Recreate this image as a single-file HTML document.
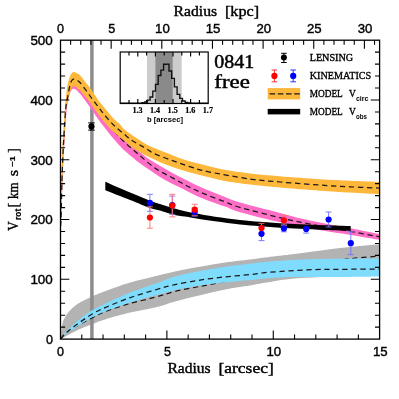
<!DOCTYPE html>
<html><head><meta charset="utf-8"><title>0841 free</title>
<style>html,body{margin:0;padding:0;background:#fff}body{width:399px;height:399px;overflow:hidden;font-family:"Liberation Serif",serif}</style></head>
<body>
<svg width="399" height="399" viewBox="0 0 399 399" style="display:block;will-change:transform">
<rect width="399" height="399" fill="#fff"/>
<defs><clipPath id="cp"><rect x="60.5" y="40.2" width="319.1" height="298.9"/></clipPath></defs>
<g clip-path="url(#cp)">
<path d="M60.50 339.10 C60.62 337.83 60.87 334.15 61.20 331.50 C61.53 328.85 61.95 325.42 62.50 323.20 C63.05 320.98 63.67 319.83 64.50 318.20 C65.33 316.57 66.08 315.18 67.50 313.40 C68.92 311.62 70.92 309.30 73.00 307.50 C75.08 305.70 76.73 304.47 80.00 302.60 C83.27 300.73 88.42 298.18 92.60 296.30 C96.78 294.42 98.83 293.58 105.10 291.30 C111.37 289.02 121.88 285.10 130.20 282.60 C138.52 280.10 147.53 278.17 155.00 276.30 C162.47 274.43 167.50 272.98 175.00 271.40 C182.50 269.82 191.67 268.27 200.00 266.80 C208.33 265.33 216.67 263.80 225.00 262.60 C233.33 261.40 243.33 260.43 250.00 259.60 C256.67 258.77 258.33 258.43 265.00 257.60 C271.67 256.77 281.67 255.65 290.00 254.60 C298.33 253.55 306.67 252.40 315.00 251.30 C323.33 250.20 332.50 248.88 340.00 248.00 C347.50 247.12 353.42 246.63 360.00 246.00 C366.58 245.37 376.25 244.50 379.50 244.20 L379.65 275.00 C374.71 275.17 359.94 275.67 350.00 276.00 C340.06 276.33 330.00 276.50 320.00 277.00 C310.00 277.50 299.17 278.03 290.00 279.00 C280.83 279.97 271.67 281.73 265.00 282.80 C258.33 283.87 256.67 284.30 250.00 285.40 C243.33 286.50 233.33 287.77 225.00 289.40 C216.67 291.03 208.33 293.20 200.00 295.20 C191.67 297.20 182.50 299.33 175.00 301.40 C167.50 303.47 162.47 305.73 155.00 307.60 C147.53 309.47 138.52 310.63 130.20 312.60 C121.88 314.57 111.37 317.52 105.10 319.40 C98.83 321.28 96.78 322.32 92.60 323.90 C88.42 325.48 83.77 327.22 80.00 328.90 C76.23 330.58 73.25 332.30 70.00 334.00 C66.75 335.70 62.08 338.25 60.50 339.10 Z" fill="#B3B3B3"/>
<line x1="91.9" x2="91.9" y1="40" y2="339.1" stroke="#8C8C8C" stroke-width="3.5"/>
<path d="M60.50 339.10 C61.25 338.25 63.42 335.52 65.00 334.00 C66.58 332.48 67.50 331.63 70.00 330.00 C72.50 328.37 76.23 326.27 80.00 324.20 C83.77 322.13 88.42 319.70 92.60 317.60 C96.78 315.50 98.83 313.97 105.10 311.60 C111.37 309.23 121.88 305.78 130.20 303.40 C138.52 301.02 147.53 299.30 155.00 297.30 C162.47 295.30 167.50 293.22 175.00 291.40 C182.50 289.58 191.67 288.05 200.00 286.40 C208.33 284.75 216.67 283.07 225.00 281.50 C233.33 279.93 240.83 278.67 250.00 277.00 C259.17 275.33 270.00 273.42 280.00 271.50 C290.00 269.58 300.00 267.38 310.00 265.50 C320.00 263.62 332.50 261.42 340.00 260.20 C347.50 258.98 348.42 258.90 355.00 258.20 C361.58 257.50 375.42 256.37 379.50 256.00" fill="none" stroke="#1a1a1a" stroke-width="1.25" stroke-dasharray="5.3 3.7"/>
<path d="M60.50 339.10 C61.25 338.08 63.42 334.85 65.00 333.00 C66.58 331.15 67.50 330.35 70.00 328.00 C72.50 325.65 76.23 321.88 80.00 318.90 C83.77 315.92 88.42 312.60 92.60 310.10 C96.78 307.60 98.83 306.82 105.10 303.90 C111.37 300.98 121.88 295.95 130.20 292.60 C138.52 289.25 147.53 286.50 155.00 283.80 C162.47 281.10 167.50 278.55 175.00 276.40 C182.50 274.25 191.67 272.50 200.00 270.90 C208.33 269.30 216.67 267.98 225.00 266.80 C233.33 265.62 243.33 264.58 250.00 263.80 C256.67 263.02 258.33 262.72 265.00 262.10 C271.67 261.48 281.67 260.60 290.00 260.10 C298.33 259.60 306.67 259.32 315.00 259.10 C323.33 258.88 329.25 258.88 340.00 258.80 C350.75 258.72 372.92 258.63 379.50 258.60 L379.65 276.60 C373.04 276.68 350.77 277.03 340.00 277.10 C329.23 277.17 323.33 277.02 315.00 277.00 C306.67 276.98 298.33 276.77 290.00 277.00 C281.67 277.23 271.67 277.88 265.00 278.40 C258.33 278.92 256.67 279.40 250.00 280.10 C243.33 280.80 233.33 281.68 225.00 282.60 C216.67 283.52 208.33 284.33 200.00 285.60 C191.67 286.87 182.50 288.53 175.00 290.20 C167.50 291.87 162.47 293.53 155.00 295.60 C147.53 297.67 138.52 299.97 130.20 302.60 C121.88 305.23 111.37 308.98 105.10 311.40 C98.83 313.82 96.78 314.88 92.60 317.10 C88.42 319.32 83.77 322.38 80.00 324.70 C76.23 327.02 72.50 329.37 70.00 331.00 C67.50 332.63 66.58 333.15 65.00 334.50 C63.42 335.85 61.25 338.33 60.50 339.10 Z" fill="#80DCFC"/>
<path d="M60.50 339.10 C61.25 338.22 63.42 335.38 65.00 333.80 C66.58 332.22 67.50 331.53 70.00 329.60 C72.50 327.67 76.23 324.83 80.00 322.20 C83.77 319.57 88.42 316.23 92.60 313.80 C96.78 311.37 98.83 310.30 105.10 307.60 C111.37 304.90 121.88 300.53 130.20 297.60 C138.52 294.67 147.53 292.17 155.00 290.00 C162.47 287.83 167.50 286.25 175.00 284.60 C182.50 282.95 191.67 281.38 200.00 280.10 C208.33 278.82 216.67 277.82 225.00 276.90 C233.33 275.98 243.33 275.32 250.00 274.60 C256.67 273.88 258.33 273.22 265.00 272.60 C271.67 271.98 281.67 271.40 290.00 270.90 C298.33 270.40 306.67 269.87 315.00 269.60 C323.33 269.33 329.25 269.38 340.00 269.30 C350.75 269.22 372.92 269.13 379.50 269.10" fill="none" stroke="#1a1a1a" stroke-width="1.25" stroke-dasharray="5.3 3.7"/>
<path d="M60.60 226.00 C60.67 224.17 60.80 222.67 61.00 215.00 C61.20 207.33 61.53 190.00 61.80 180.00 C62.07 170.00 62.33 162.00 62.60 155.00 C62.87 148.00 63.08 143.50 63.40 138.00 C63.72 132.50 64.15 127.08 64.50 122.00 C64.85 116.92 65.12 112.00 65.50 107.50 C65.88 103.00 66.30 98.58 66.80 95.00 C67.30 91.42 67.88 88.50 68.50 86.00 C69.12 83.50 69.62 81.50 70.50 80.00 C71.38 78.50 72.17 76.83 73.75 77.00 C75.33 77.17 77.29 78.00 80.00 81.00 C82.71 84.00 86.67 90.33 90.00 95.00 C93.33 99.67 96.25 104.00 100.00 109.00 C103.75 114.00 108.33 120.08 112.50 125.00 C116.67 129.92 120.83 134.33 125.00 138.50 C129.17 142.67 133.33 146.45 137.50 150.00 C141.67 153.55 145.42 156.67 150.00 159.80 C154.58 162.93 160.00 165.93 165.00 168.80 C170.00 171.67 175.00 174.40 180.00 177.00 C185.00 179.60 190.00 182.07 195.00 184.40 C200.00 186.73 205.00 188.88 210.00 191.00 C215.00 193.12 220.00 195.17 225.00 197.10 C230.00 199.03 230.83 199.95 240.00 202.60 C249.17 205.25 270.00 210.38 280.00 213.00 C290.00 215.62 292.50 216.53 300.00 218.30 C307.50 220.07 316.55 221.95 325.00 223.60 C333.45 225.25 341.62 226.45 350.70 228.20 C359.78 229.95 374.70 233.12 379.50 234.10 L379.50 239.70 C374.70 238.90 359.78 236.35 350.70 234.90 C341.62 233.45 333.45 232.38 325.00 231.00 C316.55 229.62 307.50 228.05 300.00 226.60 C292.50 225.15 290.00 224.70 280.00 222.30 C270.00 219.90 249.17 214.82 240.00 212.20 C230.83 209.58 231.67 209.07 225.00 206.60 C218.33 204.13 205.23 199.42 200.00 197.40 C194.77 195.38 196.93 196.15 193.60 194.50 C190.27 192.85 184.77 189.90 180.00 187.50 C175.23 185.10 170.00 182.97 165.00 180.10 C160.00 177.23 154.58 173.40 150.00 170.30 C145.42 167.20 141.67 164.72 137.50 161.50 C133.33 158.28 127.50 153.12 125.00 151.00 C122.50 148.88 124.58 151.00 122.50 148.75 C120.42 146.50 115.82 141.46 112.50 137.50 C109.18 133.54 104.68 127.63 102.60 125.00 C100.52 122.37 101.27 123.43 100.00 121.70 C98.73 119.97 96.67 117.02 95.00 114.60 C93.33 112.18 91.46 109.30 90.00 107.20 C88.54 105.10 87.92 104.24 86.25 102.00 C84.58 99.76 81.71 95.80 80.00 93.75 C78.29 91.70 77.04 90.53 76.00 89.70 C74.96 88.87 74.50 88.70 73.75 88.75 C73.00 88.80 72.22 88.96 71.50 90.00 C70.78 91.04 70.10 92.50 69.40 95.00 C68.70 97.50 67.92 100.50 67.30 105.00 C66.68 109.50 66.15 116.17 65.70 122.00 C65.25 127.83 64.95 134.00 64.60 140.00 C64.25 146.00 63.93 151.33 63.60 158.00 C63.27 164.67 62.97 170.50 62.60 180.00 C62.23 189.50 61.72 207.33 61.40 215.00 C61.08 222.67 60.82 224.17 60.70 226.00 Z" fill="#FF6EC6"/>
<path d="M108.75 124.40 C109.58 125.43 111.88 128.42 113.75 130.60 C115.62 132.78 117.81 135.20 120.00 137.50 C122.19 139.80 125.03 142.63 126.90 144.40 C128.78 146.17 129.48 146.58 131.25 148.10 C133.02 149.62 133.62 150.22 137.50 153.50 C141.38 156.78 148.65 163.73 154.50 167.80 C160.35 171.87 166.83 174.70 172.60 177.90 C178.37 181.10 183.60 184.25 189.10 187.00 C194.60 189.75 199.62 191.92 205.60 194.40 C211.58 196.88 219.27 199.73 225.00 201.90 C230.73 204.07 230.83 204.77 240.00 207.40 C249.17 210.03 270.00 215.25 280.00 217.70 C290.00 220.15 292.50 220.57 300.00 222.10 C307.50 223.63 316.55 225.33 325.00 226.90 C333.45 228.47 341.62 229.85 350.70 231.50 C359.78 233.15 374.70 235.92 379.50 236.80" fill="none" stroke="#1a1a1a" stroke-width="1.25" stroke-dasharray="5.3 3.7"/>
<path d="M60.60 226.00 C60.65 224.17 60.75 222.67 60.90 215.00 C61.05 207.33 61.28 190.00 61.50 180.00 C61.72 170.00 61.97 162.00 62.20 155.00 C62.43 148.00 62.60 143.50 62.90 138.00 C63.20 132.50 63.65 127.08 64.00 122.00 C64.35 116.92 64.62 112.00 65.00 107.50 C65.38 103.00 65.83 98.75 66.25 95.00 C66.67 91.25 66.88 88.12 67.50 85.00 C68.12 81.88 69.25 78.25 70.00 76.25 C70.75 74.25 71.38 73.69 72.00 73.00 C72.62 72.31 73.08 72.13 73.75 72.10 C74.42 72.07 74.96 72.28 76.00 72.80 C77.04 73.32 78.67 73.97 80.00 75.20 C81.33 76.43 82.67 78.53 84.00 80.20 C85.33 81.87 86.58 83.33 88.00 85.20 C89.42 87.07 91.33 89.72 92.50 91.40 C93.67 93.08 93.75 93.43 95.00 95.30 C96.25 97.17 98.33 100.38 100.00 102.60 C101.67 104.82 103.33 106.60 105.00 108.60 C106.67 110.60 108.33 112.68 110.00 114.60 C111.67 116.52 113.40 118.52 115.00 120.10 C116.60 121.68 117.93 122.45 119.60 124.10 C121.27 125.75 122.02 127.56 125.00 130.00 C127.98 132.44 133.33 136.03 137.50 138.75 C141.67 141.47 145.42 144.04 150.00 146.30 C154.58 148.56 160.00 150.30 165.00 152.30 C170.00 154.30 175.00 156.55 180.00 158.30 C185.00 160.05 190.00 161.45 195.00 162.80 C200.00 164.15 205.00 165.23 210.00 166.40 C215.00 167.57 218.33 168.62 225.00 169.80 C231.67 170.98 240.83 172.42 250.00 173.50 C259.17 174.58 268.33 175.33 280.00 176.30 C291.67 177.27 308.33 178.55 320.00 179.30 C331.67 180.05 340.08 180.35 350.00 180.80 C359.92 181.25 374.58 181.80 379.50 182.00 L379.50 194.30 C374.58 194.02 359.92 193.20 350.00 192.60 C340.08 192.00 331.67 191.55 320.00 190.70 C308.33 189.85 291.67 188.52 280.00 187.50 C268.33 186.48 259.17 185.68 250.00 184.60 C240.83 183.52 231.67 182.18 225.00 181.00 C218.33 179.82 215.00 178.70 210.00 177.50 C205.00 176.30 200.00 175.12 195.00 173.80 C190.00 172.48 185.00 171.18 180.00 169.60 C175.00 168.02 170.00 166.30 165.00 164.30 C160.00 162.30 155.21 160.23 150.00 157.60 C144.79 154.97 137.92 151.22 133.75 148.50 C129.58 145.78 128.54 144.18 125.00 141.25 C121.46 138.32 115.82 133.94 112.50 130.90 C109.18 127.86 107.18 125.40 105.10 123.00 C103.02 120.60 101.68 118.70 100.00 116.50 C98.32 114.30 96.67 112.12 95.00 109.80 C93.33 107.48 91.46 104.60 90.00 102.60 C88.54 100.60 87.92 99.80 86.25 97.80 C84.58 95.80 81.71 92.40 80.00 90.60 C78.29 88.80 77.04 87.72 76.00 87.00 C74.96 86.28 74.42 86.17 73.75 86.25 C73.08 86.33 72.62 86.46 72.00 87.50 C71.38 88.54 70.75 90.00 70.00 92.50 C69.25 95.00 68.12 99.58 67.50 102.50 C66.88 105.42 66.60 106.75 66.25 110.00 C65.90 113.25 65.71 117.00 65.40 122.00 C65.09 127.00 64.72 134.00 64.40 140.00 C64.08 146.00 63.82 151.33 63.50 158.00 C63.18 164.67 62.85 170.50 62.50 180.00 C62.15 189.50 61.70 207.33 61.40 215.00 C61.10 222.67 60.82 224.17 60.70 226.00 Z" fill="#FDB73A"/>
<path d="M60.65 226.00 C60.73 224.17 60.92 222.67 61.15 215.00 C61.38 207.33 61.71 190.00 62.00 180.00 C62.29 170.00 62.62 161.67 62.90 155.00 C63.18 148.33 63.42 145.00 63.70 140.00 C63.98 135.00 64.28 130.00 64.60 125.00 C64.92 120.00 65.28 113.67 65.60 110.00 C65.92 106.33 66.08 105.50 66.50 103.00 C66.92 100.50 67.52 98.00 68.10 95.00 C68.68 92.00 69.38 87.42 70.00 85.00 C70.62 82.58 71.17 81.50 71.80 80.50 C72.42 79.50 73.05 79.17 73.75 79.00 C74.45 78.83 74.96 78.92 76.00 79.50 C77.04 80.08 78.29 80.65 80.00 82.50 C81.71 84.35 84.17 87.78 86.25 90.60 C88.33 93.42 90.42 96.58 92.50 99.40 C94.58 102.22 96.88 105.07 98.75 107.50 C100.62 109.93 101.88 111.71 103.75 114.00 C105.62 116.29 107.92 119.00 110.00 121.25 C112.08 123.50 113.96 125.42 116.25 127.50 C118.54 129.58 121.25 131.67 123.75 133.75 C126.25 135.83 128.75 138.22 131.25 140.00 C133.75 141.78 136.25 142.97 138.75 144.40 C141.25 145.83 143.62 147.03 146.25 148.60 C148.88 150.17 150.11 151.80 154.50 153.80 C158.89 155.80 166.58 158.42 172.60 160.60 C178.62 162.78 184.60 165.03 190.60 166.90 C196.60 168.77 198.70 169.78 208.60 171.80 C218.50 173.82 238.10 177.30 250.00 179.00 C261.90 180.70 268.33 180.98 280.00 182.00 C291.67 183.02 308.33 184.30 320.00 185.10 C331.67 185.90 340.08 186.30 350.00 186.80 C359.92 187.30 374.58 187.88 379.50 188.10" fill="none" stroke="#1a1a1a" stroke-width="1.25" stroke-dasharray="5.3 3.7"/>
<path d="M105.30 181.70 C109.43 183.52 122.65 189.42 130.10 192.60 C137.55 195.78 145.02 198.88 150.00 200.80 C154.98 202.72 156.23 202.90 160.00 204.10 C163.77 205.30 168.43 206.82 172.60 208.00 C176.77 209.18 181.25 210.32 185.00 211.20 C188.75 212.08 190.10 212.37 195.10 213.30 C200.10 214.23 207.52 215.68 215.00 216.80 C222.48 217.92 232.50 219.17 240.00 220.00 C247.50 220.83 253.33 221.27 260.00 221.80 C266.67 222.33 273.33 222.78 280.00 223.20 C286.67 223.62 292.50 223.95 300.00 224.30 C307.50 224.65 316.55 225.00 325.00 225.30 C333.45 225.60 346.42 225.97 350.70 226.10 L350.70 230.90 C346.42 230.75 333.45 230.35 325.00 230.00 C316.55 229.65 307.50 229.18 300.00 228.80 C292.50 228.42 286.67 228.12 280.00 227.70 C273.33 227.28 266.67 226.82 260.00 226.30 C253.33 225.78 247.50 225.43 240.00 224.60 C232.50 223.77 222.48 222.35 215.00 221.30 C207.52 220.25 200.10 219.08 195.10 218.30 C190.10 217.52 188.75 217.23 185.00 216.60 C181.25 215.97 176.77 215.50 172.60 214.50 C168.43 213.50 163.77 211.67 160.00 210.60 C156.23 209.53 154.98 209.85 150.00 208.10 C145.02 206.35 137.55 203.07 130.10 200.10 C122.65 197.13 109.43 191.93 105.30 190.30 Z" fill="#000"/>
</g>
<g stroke="#7070FF" stroke-width="0.9" fill="none"><path d="M149.9 194.3V211.3M146.9 194.3H152.9M146.9 211.3H152.9"/></g>
<g stroke="#7070FF" stroke-width="0.9" fill="none"><path d="M172.3 196.1V214.3M169.3 196.1H175.3M169.3 214.3H175.3"/></g>
<g stroke="#7070FF" stroke-width="0.9" fill="none"><path d="M194.7 208.1V216.1M191.7 208.1H197.7M191.7 216.1H197.7"/></g>
<g stroke="#7070FF" stroke-width="0.9" fill="none"><path d="M261.5 227.0V240.6M258.5 227.0H264.5M258.5 240.6H264.5"/></g>
<g stroke="#7070FF" stroke-width="0.9" fill="none"><path d="M283.9 225.0V231.8M280.9 225.0H286.9M280.9 231.8H286.9"/></g>
<g stroke="#7070FF" stroke-width="0.9" fill="none"><path d="M306.2 228.9V233.1M303.2 228.9H309.2M303.2 233.1H309.2"/></g>
<g stroke="#7070FF" stroke-width="0.9" fill="none"><path d="M328.6 212.0V227.0M325.6 212.0H331.6M325.6 227.0H331.6"/></g>
<g stroke="#7070FF" stroke-width="0.9" fill="none"><path d="M350.8 231.7V254.7M347.8 231.7H353.8M347.8 254.7H353.8"/></g>
<g stroke="#FF7070" stroke-width="0.9" fill="none"><path d="M149.9 206.8V228.2M146.9 206.8H152.9M146.9 228.2H152.9"/></g>
<g stroke="#FF7070" stroke-width="0.9" fill="none"><path d="M172.3 194.3V216.9M169.3 194.3H175.3M169.3 216.9H175.3"/></g>
<g stroke="#FF7070" stroke-width="0.9" fill="none"><path d="M194.7 204.2V215.2M191.7 204.2H197.7M191.7 215.2H197.7"/></g>
<g stroke="#FF7070" stroke-width="0.9" fill="none"><path d="M261.5 223.3V232.9M258.5 223.3H264.5M258.5 232.9H264.5"/></g>
<g stroke="#FF7070" stroke-width="0.9" fill="none"><path d="M283.9 215.3V225.3M280.9 215.3H286.9M280.9 225.3H286.9"/></g>
<circle cx="149.9" cy="202.8" r="3.1" fill="#0000FF"/>
<circle cx="172.3" cy="205.2" r="3.1" fill="#0000FF"/>
<circle cx="194.7" cy="212.1" r="3.1" fill="#0000FF"/>
<circle cx="261.5" cy="233.8" r="3.1" fill="#0000FF"/>
<circle cx="283.9" cy="228.4" r="3.1" fill="#0000FF"/>
<circle cx="306.2" cy="228.9" r="3.1" fill="#0000FF"/>
<circle cx="328.6" cy="219.5" r="3.1" fill="#0000FF"/>
<circle cx="350.8" cy="243.2" r="3.1" fill="#0000FF"/>
<circle cx="149.9" cy="217.5" r="3.1" fill="#FF0000"/>
<circle cx="172.3" cy="205.6" r="3.1" fill="#FF0000"/>
<circle cx="194.7" cy="209.7" r="3.1" fill="#FF0000"/>
<circle cx="261.5" cy="228.1" r="3.1" fill="#FF0000"/>
<circle cx="283.9" cy="220.3" r="3.1" fill="#FF0000"/>
<g stroke="#000" stroke-width="1" fill="none"><path d="M91.5 122.9V130.1M88.2 122.9H94.8M88.2 130.1H94.8"/></g><circle cx="91.5" cy="126.4" r="3.1" fill="#000"/>
<g stroke="#000" stroke-width="1.3" fill="none">
<rect x="60.5" y="40.2" width="319.1" height="298.9"/>
</g>
<path d="M81.78 339.1v-4.5M103.05 339.1v-4.5M124.33 339.1v-4.5M145.61 339.1v-4.5M166.88 339.1v-8.6M188.16 339.1v-4.5M209.44 339.1v-4.5M230.71 339.1v-4.5M251.99 339.1v-4.5M273.27 339.1v-8.6M294.54 339.1v-4.5M315.82 339.1v-4.5M337.10 339.1v-4.5M358.37 339.1v-4.5M70.63 40.2v4.5M80.76 40.2v4.5M90.89 40.2v4.5M101.02 40.2v4.5M111.15 40.2v8.6M121.28 40.2v4.5M131.41 40.2v4.5M141.54 40.2v4.5M151.67 40.2v4.5M161.80 40.2v8.6M171.93 40.2v4.5M182.06 40.2v4.5M192.19 40.2v4.5M202.32 40.2v4.5M212.45 40.2v8.6M222.58 40.2v4.5M232.71 40.2v4.5M242.84 40.2v4.5M252.97 40.2v4.5M263.10 40.2v8.6M273.23 40.2v4.5M283.36 40.2v4.5M293.49 40.2v4.5M303.62 40.2v4.5M313.75 40.2v8.6M323.88 40.2v4.5M334.01 40.2v4.5M344.14 40.2v4.5M354.27 40.2v4.5M364.40 40.2v8.6M374.53 40.2v4.5M60.5 327.14h4.6M379.6 327.14h-4.6M60.5 315.19h4.6M379.6 315.19h-4.6M60.5 303.23h4.6M379.6 303.23h-4.6M60.5 291.28h4.6M379.6 291.28h-4.6M60.5 279.32h8.8M379.6 279.32h-8.8M60.5 267.36h4.6M379.6 267.36h-4.6M60.5 255.41h4.6M379.6 255.41h-4.6M60.5 243.45h4.6M379.6 243.45h-4.6M60.5 231.50h4.6M379.6 231.50h-4.6M60.5 219.54h8.8M379.6 219.54h-8.8M60.5 207.58h4.6M379.6 207.58h-4.6M60.5 195.63h4.6M379.6 195.63h-4.6M60.5 183.67h4.6M379.6 183.67h-4.6M60.5 171.72h4.6M379.6 171.72h-4.6M60.5 159.76h8.8M379.6 159.76h-8.8M60.5 147.80h4.6M379.6 147.80h-4.6M60.5 135.85h4.6M379.6 135.85h-4.6M60.5 123.89h4.6M379.6 123.89h-4.6M60.5 111.94h4.6M379.6 111.94h-4.6M60.5 99.98h8.8M379.6 99.98h-8.8M60.5 88.02h4.6M379.6 88.02h-4.6M60.5 76.07h4.6M379.6 76.07h-4.6M60.5 64.11h4.6M379.6 64.11h-4.6M60.5 52.16h4.6M379.6 52.16h-4.6" stroke="#000" stroke-width="1.1" fill="none"/>
<rect x="120.2" y="52.0" width="88.0" height="51.5" fill="#fff"/>
<rect x="147" y="52.0" width="34.7" height="51.5" fill="#CCCCCC"/>
<rect x="155.4" y="52.0" width="17.3" height="51.5" fill="#8A8A8A"/>
<path d="M120.40 103.20V103.20H123.10V103.20H125.80V103.20H128.50V103.20H131.20V103.20H133.90V103.19H136.60V103.16H139.30V103.05H142.00V102.78H144.70V102.03H147.40V100.11H150.10V97.03H152.80V91.18H155.50V84.31H158.20V75.47H160.90V70.14H163.60V64.23H166.30V64.10H169.00V71.00H171.70V78.31H174.40V86.86H177.10V94.38H179.80V98.30H182.50V101.04H185.20V102.38H187.90V102.93H190.60V103.11H193.30V103.18H196.00V103.19H198.70V103.20H201.40V103.20H204.10V103.20H206.80V103.20H208.20V103.20" fill="none" stroke="#111" stroke-width="1.35" stroke-linejoin="miter"/>
<rect x="120.2" y="52.0" width="88.0" height="51.5" fill="none" stroke="#000" stroke-width="1.2"/>
<path d="M129.00 52.0v3.4M129.00 103.5v-3.4M137.80 52.0v4.6M137.80 103.5v-4.6M146.60 52.0v3.4M146.60 103.5v-3.4M155.40 52.0v4.6M155.40 103.5v-4.6M164.20 52.0v3.4M164.20 103.5v-3.4M173.00 52.0v4.6M173.00 103.5v-4.6M181.80 52.0v3.4M181.80 103.5v-3.4M190.60 52.0v4.6M190.60 103.5v-4.6M199.40 52.0v3.4M199.40 103.5v-3.4" stroke="#000" stroke-width="1.15" fill="none"/>
<g stroke="#000" stroke-width="1" fill="none"><path d="M283.9 53.3V62.5M281.1 53.3H286.7M281.1 62.5H286.7"/></g><circle cx="283.9" cy="57.6" r="3" fill="#000"/>
<g stroke="#FF3030" stroke-width="1" fill="none"><path d="M274.4 70V81.8M271.6 70H277.2M271.6 81.8H277.2"/></g><circle cx="274.4" cy="75.9" r="3.1" fill="#FF0000"/>
<g stroke="#3030FF" stroke-width="1" fill="none"><path d="M293.2 70V81.8M290.4 70H296M290.4 81.8H296"/></g><circle cx="293.2" cy="75.9" r="3.1" fill="#0000FF"/>
<rect x="267.7" y="88.1" width="32.5" height="11.3" fill="#FDB73A"/>
<line x1="269.6" x2="300.2" y1="93.9" y2="93.9" stroke="#1a1a1a" stroke-width="1.4" stroke-dasharray="5.6 2.6"/>
<rect x="267.7" y="108.9" width="32.5" height="5.5" fill="#000"/>
<g fill="#000">
<text x="173.6" y="16.4" font-family="'Liberation Serif', serif" font-size="13.6px" text-anchor="start" font-weight="normal" textLength="43.5" lengthAdjust="spacingAndGlyphs" stroke="#000" stroke-width="0.38" >Radius</text>
<text x="225.0" y="16.4" font-family="'Liberation Serif', serif" font-size="13.6px" text-anchor="start" font-weight="normal" textLength="34.0" lengthAdjust="spacingAndGlyphs" stroke="#000" stroke-width="0.38" >[kpc]</text>
<text x="57.0" y="33.4" font-family="'Liberation Sans', sans-serif" font-size="13.3px" text-anchor="start" font-weight="normal" textLength="7.0" lengthAdjust="spacingAndGlyphs" stroke="#000" stroke-width="0.40" >0</text>
<text x="108.3" y="33.4" font-family="'Liberation Sans', sans-serif" font-size="13.3px" text-anchor="start" font-weight="normal" textLength="7.0" lengthAdjust="spacingAndGlyphs" stroke="#000" stroke-width="0.40" >5</text>
<text x="155.1" y="33.4" font-family="'Liberation Sans', sans-serif" font-size="13.3px" text-anchor="start" font-weight="normal" textLength="14.7" lengthAdjust="spacingAndGlyphs" stroke="#000" stroke-width="0.40" >10</text>
<text x="205.7" y="33.4" font-family="'Liberation Sans', sans-serif" font-size="13.3px" text-anchor="start" font-weight="normal" textLength="14.7" lengthAdjust="spacingAndGlyphs" stroke="#000" stroke-width="0.40" >15</text>
<text x="256.4" y="33.4" font-family="'Liberation Sans', sans-serif" font-size="13.3px" text-anchor="start" font-weight="normal" textLength="14.7" lengthAdjust="spacingAndGlyphs" stroke="#000" stroke-width="0.40" >20</text>
<text x="307.0" y="33.4" font-family="'Liberation Sans', sans-serif" font-size="13.3px" text-anchor="start" font-weight="normal" textLength="14.7" lengthAdjust="spacingAndGlyphs" stroke="#000" stroke-width="0.40" >25</text>
<text x="357.7" y="33.4" font-family="'Liberation Sans', sans-serif" font-size="13.3px" text-anchor="start" font-weight="normal" textLength="14.7" lengthAdjust="spacingAndGlyphs" stroke="#000" stroke-width="0.40" >30</text>
<text x="57.0" y="355.6" font-family="'Liberation Sans', sans-serif" font-size="13.3px" text-anchor="start" font-weight="normal" textLength="7.0" lengthAdjust="spacingAndGlyphs" stroke="#000" stroke-width="0.40" >0</text>
<text x="164.0" y="355.6" font-family="'Liberation Sans', sans-serif" font-size="13.3px" text-anchor="start" font-weight="normal" textLength="7.0" lengthAdjust="spacingAndGlyphs" stroke="#000" stroke-width="0.40" >5</text>
<text x="266.5" y="355.6" font-family="'Liberation Sans', sans-serif" font-size="13.3px" text-anchor="start" font-weight="normal" textLength="14.7" lengthAdjust="spacingAndGlyphs" stroke="#000" stroke-width="0.40" >10</text>
<text x="372.9" y="355.6" font-family="'Liberation Sans', sans-serif" font-size="13.3px" text-anchor="start" font-weight="normal" textLength="14.7" lengthAdjust="spacingAndGlyphs" stroke="#000" stroke-width="0.40" >15</text>
<text x="167.4" y="372.6" font-family="'Liberation Serif', serif" font-size="13.6px" text-anchor="start" font-weight="normal" textLength="43.2" lengthAdjust="spacingAndGlyphs" stroke="#000" stroke-width="0.38" >Radius</text>
<text x="218.5" y="372.6" font-family="'Liberation Serif', serif" font-size="13.6px" text-anchor="start" font-weight="normal" textLength="55.2" lengthAdjust="spacingAndGlyphs" stroke="#000" stroke-width="0.38" >[arcsec]</text>
<text x="45.9" y="343.9" font-family="'Liberation Sans', sans-serif" font-size="13.3px" text-anchor="start" font-weight="normal" textLength="7.0" lengthAdjust="spacingAndGlyphs" stroke="#000" stroke-width="0.40" >0</text>
<text x="30.4" y="284.1" font-family="'Liberation Sans', sans-serif" font-size="13.3px" text-anchor="start" font-weight="normal" textLength="22.4" lengthAdjust="spacingAndGlyphs" stroke="#000" stroke-width="0.40" >100</text>
<text x="30.4" y="224.3" font-family="'Liberation Sans', sans-serif" font-size="13.3px" text-anchor="start" font-weight="normal" textLength="22.4" lengthAdjust="spacingAndGlyphs" stroke="#000" stroke-width="0.40" >200</text>
<text x="30.4" y="164.6" font-family="'Liberation Sans', sans-serif" font-size="13.3px" text-anchor="start" font-weight="normal" textLength="22.4" lengthAdjust="spacingAndGlyphs" stroke="#000" stroke-width="0.40" >300</text>
<text x="30.4" y="104.8" font-family="'Liberation Sans', sans-serif" font-size="13.3px" text-anchor="start" font-weight="normal" textLength="22.4" lengthAdjust="spacingAndGlyphs" stroke="#000" stroke-width="0.40" >400</text>
<text x="30.4" y="45.0" font-family="'Liberation Sans', sans-serif" font-size="13.3px" text-anchor="start" font-weight="normal" textLength="22.4" lengthAdjust="spacingAndGlyphs" stroke="#000" stroke-width="0.40" >500</text>
<g transform="translate(18,230.7) rotate(-90)">
<text x="0.0" y="0.0" font-family="'Liberation Serif', serif" font-size="13.8px" text-anchor="start" font-weight="normal" textLength="9.4" lengthAdjust="spacingAndGlyphs" stroke="#000" stroke-width="0.38" >V</text>
<text x="10.8" y="3.4" font-family="'Liberation Sans', sans-serif" font-size="8.8px" text-anchor="start" font-weight="bold" textLength="11.2" lengthAdjust="spacingAndGlyphs" stroke="#000" stroke-width="0.15" >rot</text>
<text x="23.3" y="0.3" font-family="'Liberation Serif', serif" font-size="14.6px" text-anchor="start" font-weight="normal" stroke="#000" stroke-width="0.30" >[</text>
<text x="31.8" y="0.0" font-family="'Liberation Serif', serif" font-size="13.8px" text-anchor="start" font-weight="normal" textLength="16.3" lengthAdjust="spacingAndGlyphs" stroke="#000" stroke-width="0.38" >km</text>
<text x="54.4" y="0.0" font-family="'Liberation Serif', serif" font-size="13.8px" text-anchor="start" font-weight="normal" textLength="6.3" lengthAdjust="spacingAndGlyphs" stroke="#000" stroke-width="0.38" >s</text>
<text x="64.2" y="-3.4" font-family="'Liberation Sans', sans-serif" font-size="8.0px" text-anchor="start" font-weight="bold" textLength="10.4" lengthAdjust="spacingAndGlyphs" stroke="#000" stroke-width="0.15" >−1</text>
<text x="77.8" y="0.3" font-family="'Liberation Serif', serif" font-size="14.6px" text-anchor="start" font-weight="normal" stroke="#000" stroke-width="0.30" >]</text>
</g>
<text x="132.4" y="113.3" font-family="'Liberation Serif', serif" font-size="7.6px" text-anchor="start" font-weight="bold" textLength="10.2" lengthAdjust="spacingAndGlyphs" stroke="#000" stroke-width="0.20" >1.3</text>
<text x="150.0" y="113.3" font-family="'Liberation Serif', serif" font-size="7.6px" text-anchor="start" font-weight="bold" textLength="10.2" lengthAdjust="spacingAndGlyphs" stroke="#000" stroke-width="0.20" >1.4</text>
<text x="167.6" y="113.3" font-family="'Liberation Serif', serif" font-size="7.6px" text-anchor="start" font-weight="bold" textLength="10.2" lengthAdjust="spacingAndGlyphs" stroke="#000" stroke-width="0.20" >1.5</text>
<text x="185.2" y="113.3" font-family="'Liberation Serif', serif" font-size="7.6px" text-anchor="start" font-weight="bold" textLength="10.2" lengthAdjust="spacingAndGlyphs" stroke="#000" stroke-width="0.20" >1.6</text>
<text x="202.8" y="113.3" font-family="'Liberation Serif', serif" font-size="7.6px" text-anchor="start" font-weight="bold" textLength="10.2" lengthAdjust="spacingAndGlyphs" stroke="#000" stroke-width="0.20" >1.7</text>
<text x="147.0" y="122.2" font-family="'Liberation Sans', sans-serif" font-size="7.6px" text-anchor="start" font-weight="bold" textLength="36.0" lengthAdjust="spacingAndGlyphs" >b [arcsec]</text>
<text x="214.3" y="67.6" font-family="'Liberation Serif', serif" font-size="18.0px" text-anchor="start" font-weight="normal" textLength="40.0" lengthAdjust="spacingAndGlyphs" stroke="#000" stroke-width="0.45" >0841</text>
<text x="214.3" y="88.2" font-family="'Liberation Serif', serif" font-size="18.0px" text-anchor="start" font-weight="normal" textLength="35.5" lengthAdjust="spacingAndGlyphs" stroke="#000" stroke-width="0.45" >free</text>
<text x="309.7" y="61.2" font-family="'Liberation Serif', serif" font-size="10.9px" text-anchor="start" font-weight="normal" textLength="43.5" lengthAdjust="spacingAndGlyphs" stroke="#000" stroke-width="0.39" >LENSING</text>
<text x="309.7" y="79.3" font-family="'Liberation Serif', serif" font-size="10.9px" text-anchor="start" font-weight="normal" textLength="61.5" lengthAdjust="spacingAndGlyphs" stroke="#000" stroke-width="0.35" >KINEMATICS</text>
<text x="309.7" y="97.3" font-family="'Liberation Serif', serif" font-size="10.9px" text-anchor="start" font-weight="normal" textLength="33.1" lengthAdjust="spacingAndGlyphs" stroke="#000" stroke-width="0.35" >MODEL</text>
<text x="348.9" y="97.3" font-family="'Liberation Serif', serif" font-size="10.9px" text-anchor="start" font-weight="normal" textLength="6.8" lengthAdjust="spacingAndGlyphs" stroke="#000" stroke-width="0.35" >V</text>
<text x="355.9" y="100.6" font-family="'Liberation Sans', sans-serif" font-size="7.2px" text-anchor="start" font-weight="bold" textLength="12.6" lengthAdjust="spacingAndGlyphs" >circ</text>
<text x="309.7" y="115.4" font-family="'Liberation Serif', serif" font-size="10.9px" text-anchor="start" font-weight="normal" textLength="33.1" lengthAdjust="spacingAndGlyphs" stroke="#000" stroke-width="0.35" >MODEL</text>
<text x="348.9" y="115.4" font-family="'Liberation Serif', serif" font-size="10.9px" text-anchor="start" font-weight="normal" textLength="6.8" lengthAdjust="spacingAndGlyphs" stroke="#000" stroke-width="0.35" >V</text>
<text x="355.9" y="118.7" font-family="'Liberation Sans', sans-serif" font-size="7.2px" text-anchor="start" font-weight="bold" textLength="11.0" lengthAdjust="spacingAndGlyphs" >obs</text>
</g>
</svg>
</body></html>
